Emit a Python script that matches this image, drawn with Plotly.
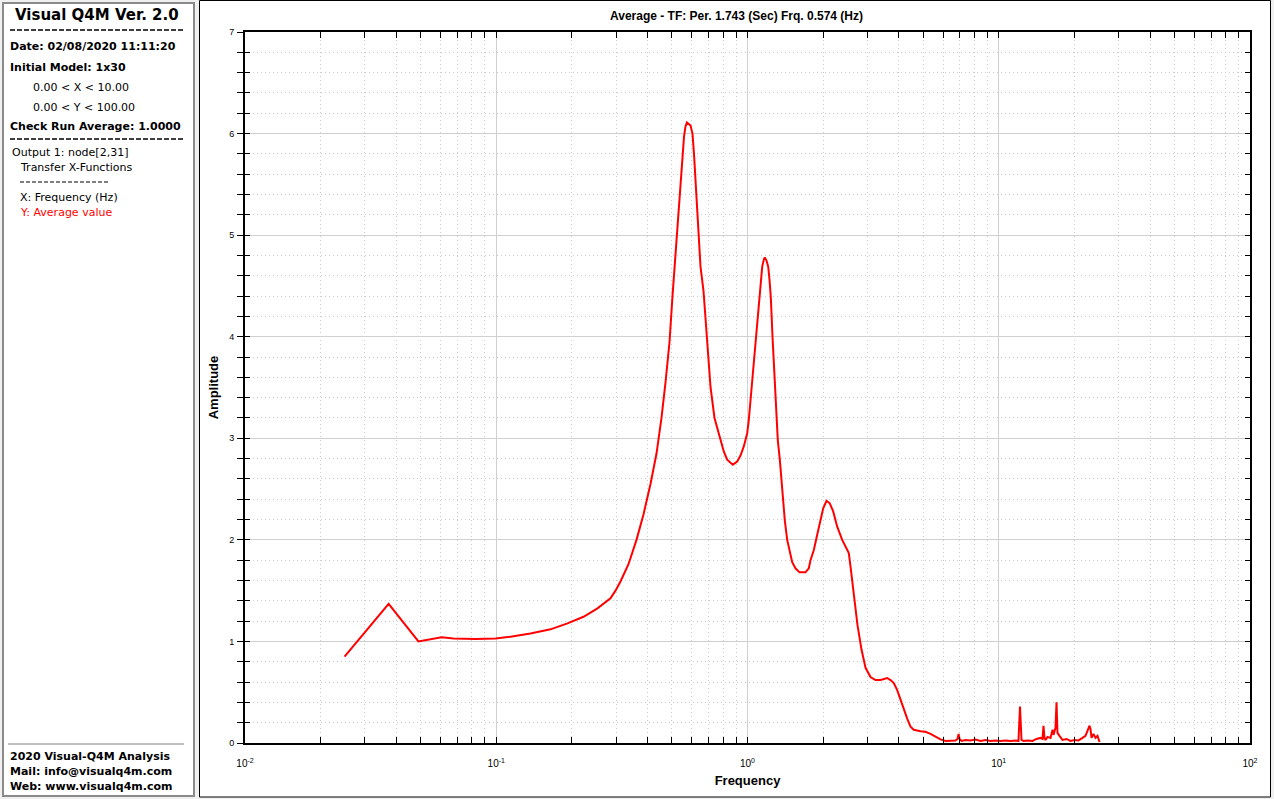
import plotly.graph_objects as go

# ---------------- data ----------------
freq_hz = [
    0.0249, 0.0373, 0.0490, 0.0606, 0.0676, 0.0827, 0.0993, 0.1139, 0.1368, 0.1644,
    0.1921, 0.2225, 0.2529, 0.2849, 0.2983, 0.3122, 0.3360, 0.3616, 0.3855, 0.4111, 0.4344,
    0.4547, 0.4717, 0.4894, 0.5029, 0.5123, 0.5217, 0.5314, 0.5412, 0.5513, 0.5589,
    0.5666, 0.5740, 0.5932, 0.6040, 0.6124, 0.6209, 0.6324, 0.6412, 0.6501, 0.6683,
    0.6869, 0.7128, 0.7390, 0.7808, 0.8047, 0.8302, 0.8739, 0.9100, 0.9378, 0.9667,
    0.9972, 1.0120, 1.0469, 1.0760, 1.1132, 1.1264, 1.1443, 1.1613, 1.1719, 1.1902,
    1.2090, 1.2235, 1.2380, 1.2576, 1.2809, 1.3045, 1.3202, 1.3447, 1.3657, 1.3872,
    1.4078, 1.4388, 1.4737, 1.5063, 1.5524, 1.6106, 1.7014, 1.7539, 1.7815, 1.8365,
    1.8944, 1.9523, 2.0013, 2.0626, 2.1257, 2.1930, 2.2751, 2.3817, 2.4774, 2.5304,
    2.5700, 2.6102, 2.6492, 2.7406, 2.8428, 2.9496, 3.0874, 3.2318, 3.3833, 3.4871,
    3.5975, 3.7085, 3.8222, 3.9432, 4.0644, 4.1891, 4.3214, 4.4547, 4.5912, 4.8812,
    5.1104, 5.3500, 5.6011, 5.8636,
    6.14, 6.43, 6.73, 6.85, 6.92, 6.98, 7.11, 7.37, 7.72, 8.08,
    8.46, 8.86, 9.27, 9.71, 10.16, 10.64, 11.14, 11.66, 11.98, 12.15,
    12.32, 12.55, 13.01, 13.62, 14.13, 14.66, 14.93, 15.07, 15.21, 15.35,
    15.63, 16.07, 16.37, 16.52, 16.82, 16.98, 17.13, 17.45, 17.93, 18.61,
    19.30, 20.02, 20.77, 21.54, 22.14, 22.55, 22.97, 23.18, 23.40, 23.83,
    24.27, 24.72, 25.18,
]

amplitude = [
    0.85, 1.37, 1.00, 1.04, 1.03, 1.025, 1.03, 1.046, 1.079, 1.119,
    1.178, 1.243, 1.326, 1.424, 1.50, 1.59, 1.76, 2.00, 2.25, 2.55, 2.85,
    3.20, 3.55, 3.95, 4.40, 4.69, 4.95, 5.25, 5.57, 5.80, 5.97,
    6.07, 6.11, 6.08, 6.00, 5.80, 5.54, 5.25, 4.95, 4.69, 4.45,
    4.00, 3.50, 3.20, 3.00, 2.87, 2.79, 2.74, 2.77, 2.83, 2.92,
    3.05, 3.18, 3.60, 3.95, 4.39, 4.49, 4.69, 4.76, 4.78, 4.75,
    4.69, 4.56, 4.39, 4.00, 3.60, 3.18, 2.98, 2.79, 2.59, 2.39,
    2.19, 2.00, 1.87, 1.78, 1.72, 1.68, 1.68, 1.72, 1.80, 1.90,
    2.05, 2.19, 2.31, 2.385, 2.36, 2.28, 2.13, 2.00, 1.92, 1.87,
    1.74, 1.60, 1.44, 1.16, 0.92, 0.74, 0.65, 0.62, 0.62, 0.63,
    0.64, 0.62, 0.59, 0.52, 0.42, 0.32, 0.24, 0.16, 0.13, 0.115,
    0.11, 0.09, 0.06, 0.036,
    0.02, 0.02, 0.025, 0.04, 0.09, 0.04, 0.02, 0.03, 0.025, 0.035,
    0.02, 0.03, 0.02, 0.025, 0.02, 0.025, 0.02, 0.025, 0.02, 0.36,
    0.03, 0.02, 0.025, 0.02, 0.04, 0.05, 0.04, 0.17, 0.05, 0.03,
    0.06, 0.05, 0.13, 0.08, 0.15, 0.40, 0.10, 0.07, 0.03, 0.04,
    0.02, 0.03, 0.025, 0.05, 0.07, 0.12, 0.17, 0.14, 0.05, 0.09,
    0.05, 0.07, 0.01,
]

x_tick_vals = [0.01, 0.1, 1, 10, 100]
x_tick_text = ["10<sup>-2</sup>", "10<sup>-1</sup>", "10<sup>0</sup>", "10<sup>1</sup>", "10<sup>2</sup>"]

chart_title = "Average - TF: Per. 1.743 (Sec) Frq. 0.574 (Hz)"
x_title = "Frequency"
y_title = "Amplitude"

panel_lines = [
    # (text, x_px, y_px, bold, color, size)
    ("Date: 02/08/2020 11:11:20", 8, 47, True, "#000000", 11),
    ("Initial Model: 1x30", 8, 67, True, "#000000", 11),
    ("0.00 &lt; X &lt; 10.00", 31, 87, False, "#000000", 11),
    ("0.00 &lt; Y &lt; 100.00", 31, 107, False, "#000000", 11),
    ("Check Run Average: 1.0000", 8, 127, True, "#000000", 11),
    ("Output 1: node[2,31]", 10, 152, False, "#000000", 11),
    ("Transfer X-Functions", 18, 167, False, "#000000", 11),
    ("X: Frequency (Hz)", 18, 197, False, "#000000", 11),
    ("Y: Average value", 18, 212, False, "#ff0000", 11),
    ("2020 Visual-Q4M Analysis", 8, 756, True, "#000000", 11),
    ("Mail: info@visualq4m.com", 8, 771, True, "#000000", 11),
    ("Web: www.visualq4m.com", 8, 786, True, "#000000", 11),
]

# ---------------- layout geometry ----------------
W, H = 1274, 799
L, R, T, B = 245, 1250, 32, 743


def px(x):
    return (x - L) / (R - L)


def py(y):
    return (B - y) / (B - T)


PANEL_FONT = "DejaVu Sans, Verdana, sans-serif"
NARROW_FONT = "Liberation Sans Narrow, Arial Narrow, Liberation Sans, Arial, sans-serif"

fig = go.Figure()
fig.add_trace(go.Scatter(
    x=freq_hz, y=amplitude, mode="lines",
    line=dict(color="#ff0000", width=2),
    showlegend=False, hoverinfo="skip",
))
# helper trace for the outward half of the left tick marks
fig.add_trace(go.Scatter(
    x=[1], y=[0], yaxis="y2", mode="markers",
    marker=dict(opacity=0), showlegend=False, hoverinfo="skip",
))

minor_x = [m * 10 ** e for e in range(-2, 2) for m in range(2, 10)]

fig.update_layout(
    width=W, height=H, autosize=False,
    margin=dict(l=L, r=W - R, t=T, b=H - B, pad=0),
    paper_bgcolor="#f0f0f0", plot_bgcolor="#ffffff",
    showlegend=False,
    xaxis=dict(
        type="log", range=[-2, 2],
        tickmode="array", tickvals=x_tick_vals, ticktext=x_tick_text,
        showline=True, linecolor="#000000", linewidth=2, mirror="ticks",
        ticks="inside", ticklen=6, tickwidth=1, tickcolor="#000000",
        showgrid=True, gridcolor="#d0d0d0", gridwidth=1, zeroline=False,
        tickfont=dict(family="Liberation Sans, Arial, sans-serif", size=10, color="#000000"),
        ticklabelstandoff=10,
        minor=dict(tickmode="array", tickvals=minor_x, ticks="inside", ticklen=6,
                   tickcolor="#000000", tickwidth=1, showgrid=True,
                   gridcolor="#cccccc", griddash="1px,3px", gridwidth=1),
        title=dict(text="<b>" + x_title + "</b>", standoff=8,
                   font=dict(family=NARROW_FONT, size=13, color="#000000")),
    ),
    yaxis=dict(
        range=[0, 7], tickmode="linear", tick0=0, dtick=1,
        showline=True, linecolor="#000000", linewidth=2, mirror="ticks",
        ticks="inside", ticklen=5, tickwidth=1, tickcolor="#000000",
        showgrid=True, gridcolor="#d0d0d0", gridwidth=1, zeroline=False,
        tickfont=dict(family="Liberation Sans, Arial, sans-serif", size=9, color="#000000"),
        ticklabelstandoff=7,
        minor=dict(tickmode="linear", tick0=0, dtick=0.2, ticks="inside", ticklen=5,
                   tickcolor="#000000", tickwidth=1, showgrid=True,
                   gridcolor="#cccccc", griddash="1px,3px", gridwidth=1),
        title=dict(text="<b>" + y_title + "</b>", standoff=8,
                   font=dict(family=NARROW_FONT, size=13, color="#000000")),
    ),
    yaxis2=dict(
        overlaying="y", side="left", range=[0, 7],
        tickmode="linear", tick0=0, dtick=1,
        ticks="outside", ticklen=7, tickwidth=1, tickcolor="#000000",
        minor=dict(tickmode="linear", tick0=0, dtick=0.2, ticks="outside", ticklen=7,
                   tickcolor="#000000", tickwidth=1, showgrid=False),
        showticklabels=False, showgrid=False, showline=False, zeroline=False,
    ),
)

shapes = []
# left info panel
shapes.append(dict(type="rect", xref="paper", yref="paper", layer="below",
                   x0=px(3), x1=px(194), y0=py(3), y1=py(796),
                   fillcolor="#ffffff", line=dict(color="#8a8a8a", width=2)))
# right chart panel
shapes.append(dict(type="rect", xref="paper", yref="paper", layer="below",
                   x0=px(199.5), x1=px(1270.5), y0=py(0.5), y1=py(797),
                   fillcolor="#ffffff", line=dict(color="#000000", width=1)))
# dashed separators in the panel
for yy in (30, 139):
    shapes.append(dict(type="line", xref="paper", yref="paper",
                       x0=px(10), x1=px(184), y0=py(yy), y1=py(yy),
                       line=dict(color="#000000", width=1.5, dash="5px,2px")))
shapes.append(dict(type="line", xref="paper", yref="paper",
                   x0=px(20), x1=px(109), y0=py(182), y1=py(182),
                   line=dict(color="#000000", width=1, dash="4px,2px")))
# bottom panel separator
shapes.append(dict(type="line", xref="paper", yref="paper",
                   x0=px(8), x1=px(184), y0=py(744), y1=py(744),
                   line=dict(color="#808080", width=1)))
fig.update_layout(shapes=shapes)

annotations = []
annotations.append(dict(text="<b>Visual Q4M Ver. 2.0</b>", xref="paper", yref="paper",
                        x=px(97), y=py(15), xanchor="center", yanchor="middle",
                        showarrow=False,
                        font=dict(family=PANEL_FONT, size=15, color="#000000")))
for txt, xx, yy, bold, col, sz in panel_lines:
    annotations.append(dict(text=("<b>" + txt + "</b>") if bold else txt,
                            xref="paper", yref="paper", x=px(xx), y=py(yy),
                            xanchor="left", yanchor="middle", showarrow=False,
                            font=dict(family=PANEL_FONT, size=sz, color=col)))
annotations.append(dict(text="<b>" + chart_title + "</b>", xref="paper", yref="paper",
                        x=px(736), y=py(16), xanchor="center", yanchor="middle",
                        showarrow=False,
                        font=dict(family=NARROW_FONT, size=12, color="#000000")))
fig.update_layout(annotations=annotations)

fig.write_html("out.html", config={"displayModeBar": False},
               post_script="document.body.style.margin='0';")
